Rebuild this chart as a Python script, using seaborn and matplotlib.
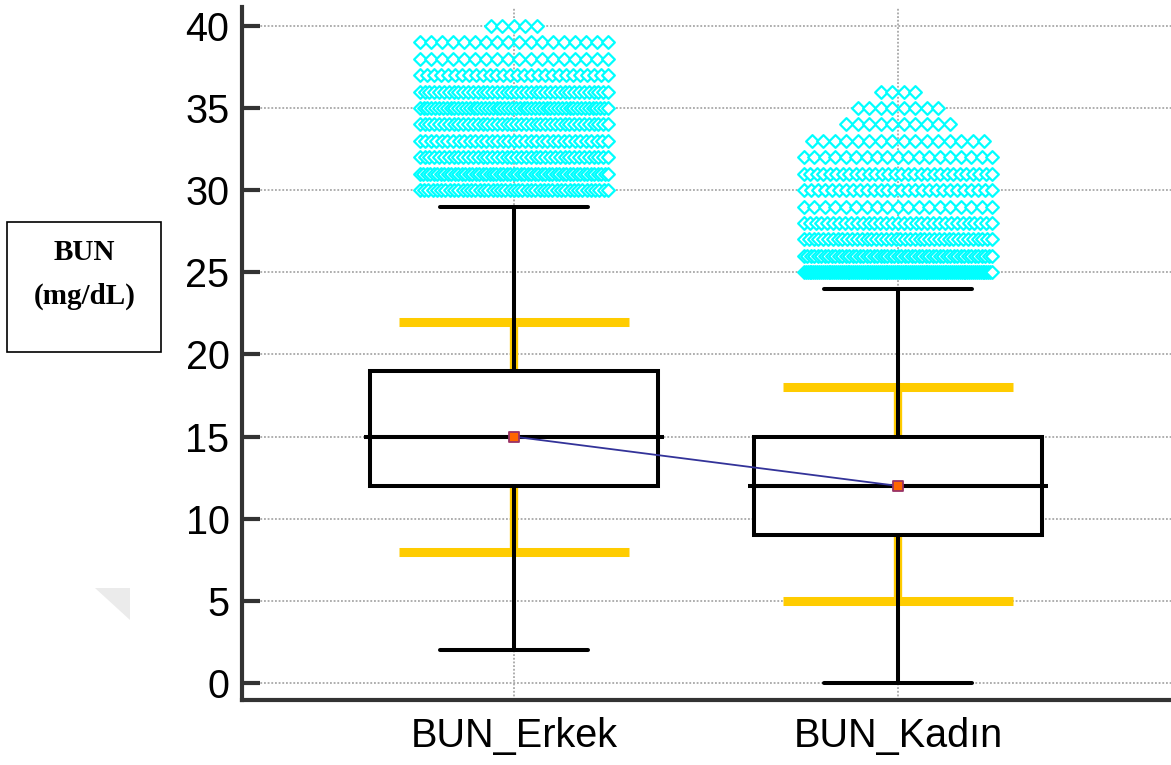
import numpy as np
import pandas as pd
import matplotlib
matplotlib.use("Agg")
import matplotlib.pyplot as plt
from matplotlib.patches import Rectangle, Polygon
import seaborn as sns

# ---------------- data ----------------
categories = ["BUN_Erkek", "BUN_Kadın"]
q1 = [12, 9]
medians = [15, 12]
q3 = [19, 15]
whisker_low = [2, 0]
whisker_high = [29, 24]
means = [15, 12]
range_low = [8, 5]
range_high = [22, 18]

erkek_outlier_values = [30, 31, 32, 33, 34, 35, 36, 37, 38, 39, 40]
erkek_outlier_counts = [45, 55, 40, 35, 40, 50, 40, 28, 18, 18, 5]
kadin_outlier_values = [25, 26, 27, 28, 29, 30, 31, 32, 33, 34, 35, 36]
kadin_outlier_counts = [100, 55, 40, 33, 19, 28, 30, 19, 16, 10, 8, 4]

y_ticks = [0, 5, 10, 15, 20, 25, 30, 35, 40]

# ---------------- style ----------------
sns.set_theme(style="white")
plt.rcParams["font.family"] = ["Liberation Sans", "DejaVu Sans"]
plt.rcParams["text.color"] = "black"

fig = plt.figure(figsize=(11.71, 7.65), dpi=100)
ax = fig.add_axes([242 / 1171, 65 / 765, (1171 - 242) / 1171, (700 - 7) / 765])

pos = np.arange(len(categories))

# outlier table: evenly spread markers per integer level
rows = []
for gi, (vals, cnts) in enumerate([(erkek_outlier_values, erkek_outlier_counts),
                                   (kadin_outlier_values, kadin_outlier_counts)]):
    for v, n in zip(vals, cnts):
        step = min(0.030, 0.49 / max(n - 1, 1))
        offs = (np.arange(n) - (n - 1) / 2) * step
        for o in offs:
            rows.append({"x": pos[gi] + o, "y": v})
outliers = pd.DataFrame(rows)

# yellow range bars (behind boxes)
ycol = "#FFCC00"
ax.vlines(pos, range_low, range_high, color=ycol, lw=6, zorder=2)
ax.hlines(range_low, pos - 0.30, pos + 0.30, color=ycol, lw=6.5, zorder=2)
ax.hlines(range_high, pos - 0.30, pos + 0.30, color=ycol, lw=6.5, zorder=2)

# boxes
stats = []
for i in range(len(categories)):
    stats.append({"med": medians[i], "q1": q1[i], "q3": q3[i],
                  "whislo": whisker_low[i], "whishi": whisker_high[i],
                  "fliers": [], "label": categories[i]})
lw = 2.9
ax.bxp(stats, positions=pos, widths=0.75, patch_artist=True, showfliers=False,
       capwidths=0.385,
       boxprops=dict(facecolor="white", edgecolor="black", linewidth=lw),
       whiskerprops=dict(color="black", linewidth=lw),
       capprops=dict(color="black", linewidth=lw),
       medianprops=dict(color="black", linewidth=lw),
       zorder=3)
ax.hlines(medians, pos - 0.39, pos + 0.39, color="black", lw=lw, zorder=4)

# outliers
sns.scatterplot(data=outliers, x="x", y="y", marker="D", s=42, color="white",
                edgecolor="#00FFFF", linewidth=1.6, ax=ax, zorder=5, legend=False)

# mean line and markers
sns.lineplot(x=pos, y=means, color="#333399", lw=1.3, ax=ax, zorder=6)
ax.scatter(pos, means, marker="s", s=55, facecolor="#FF6600", edgecolor="#993366",
           linewidth=1.3, zorder=7)

# axes
ax.set_xlim(-0.708, 1.711)
ax.set_ylim(-1.03, 41.15)
ax.set_yticks(y_ticks)
ax.set_yticklabels([str(t) for t in y_ticks])
ax.set_xticks(pos)
ax.set_xticklabels(categories)
ax.set_xlabel("")
ax.set_ylabel("")

ax.set_axisbelow(True)
ax.grid(True, axis="both", linestyle=(0, (1.2, 1.2)), color="#999999", lw=1.1)

for s in ["top", "right"]:
    ax.spines[s].set_visible(False)
for s in ["left", "bottom"]:
    ax.spines[s].set_color("#333333")
    ax.spines[s].set_linewidth(3)

ax.tick_params(axis="y", direction="in", length=13, width=3, color="#333333",
               labelsize=28.5, pad=9, labelcolor="black", left=True)
ax.tick_params(axis="x", length=0, labelsize=28.5, pad=12, labelcolor="black")

# boxed y label
fig.add_artist(Rectangle((7 / 1171, 1 - 352 / 765), 154 / 1171, 130 / 765,
                         transform=fig.transFigure, facecolor="white",
                         edgecolor="black", linewidth=1.2))
fig.text(84 / 1171, 1 - 252 / 765, "BUN", ha="center", va="center", color="black",
         family="Liberation Serif", fontweight="bold", fontsize=21)
fig.text(85 / 1171, 1 - 296 / 765, "(mg/dL)", ha="center", va="center", color="black",
         family="Liberation Serif", fontweight="bold", fontsize=21)

# faint grey triangle artefact
fig.add_artist(Polygon([(95 / 1171, 1 - 588 / 765), (130 / 1171, 1 - 588 / 765),
                        (130 / 1171, 1 - 620 / 765)], closed=True,
                       transform=fig.transFigure, facecolor="#ebebeb",
                       edgecolor="none"))

fig.savefig("out.png", dpi=100)
